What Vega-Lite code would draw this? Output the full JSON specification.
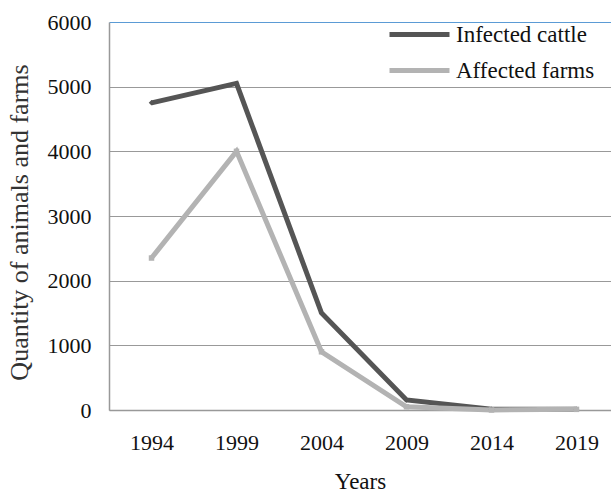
{
  "$schema": "https://vega.github.io/schema/vega-lite/v6.json",
  "width": 502,
  "height": 388,
  "autosize": {"type": "none"},
  "padding": {"left": 109, "top": 22, "right": 0, "bottom": 86},
  "background": "white",
  "config": {
    "view": {"stroke": null},
    "font": "Liberation Serif",
    "axis": {"labelFont": "Liberation Serif", "titleFont": "Liberation Serif", "labelColor": "#111", "titleColor": "#111", "titleFontWeight": "normal", "ticks": false, "domainColor": "#999", "domainWidth": 1.5}
  },
  "data": {
    "values": [
      {"year": "1994", "series": "Infected cattle", "value": 4750},
      {"year": "1999", "series": "Infected cattle", "value": 5050},
      {"year": "2004", "series": "Infected cattle", "value": 1500},
      {"year": "2009", "series": "Infected cattle", "value": 155},
      {"year": "2014", "series": "Infected cattle", "value": 10},
      {"year": "2019", "series": "Infected cattle", "value": 10},
      {"year": "1994", "series": "Affected farms", "value": 2350},
      {"year": "1999", "series": "Affected farms", "value": 4000},
      {"year": "2004", "series": "Affected farms", "value": 900},
      {"year": "2009", "series": "Affected farms", "value": 50},
      {"year": "2014", "series": "Affected farms", "value": 0},
      {"year": "2019", "series": "Affected farms", "value": 10}
    ]
  },
  "encoding": {
    "x": {
      "field": "year", "type": "ordinal",
      "scale": {"type": "point", "padding": 0.453, "align": 0.552},
      "axis": {"title": "Years", "labelAngle": 0, "labelFontSize": 22, "labelPadding": 22, "titleFontSize": 23, "titlePadding": 17, "grid": false}
    },
    "y": {
      "field": "value", "type": "quantitative",
      "scale": {"domain": [0, 6000]},
      "axis": {
        "title": "Quantity of animals and farms", "values": [0, 1000, 2000, 3000, 4000, 5000, 6000], "format": "d",
        "labelFontSize": 22, "labelPadding": 18, "titleFontSize": 26, "titleColor": "#333",
        "titleX": -90, "titleY": 200, "titleAngle": -90, "titleAlign": "center", "titleBaseline": "middle",
        "grid": true, "gridWidth": 1.2,
        "gridColor": {"condition": {"test": "datum.value == 6000", "value": "#5b9bd5"}, "value": "#999999"}
      }
    }
  },
  "layer": [
    {
      "mark": {"type": "line", "strokeWidth": 5},
      "encoding": {
        "color": {
          "field": "series", "type": "nominal",
          "scale": {"domain": ["Infected cattle", "Affected farms"], "range": ["#555555", "#b3b3b3"]},
          "legend": {
            "title": null, "orient": "none", "legendX": 299, "legendY": 1,
            "symbolType": "M-6,0H6", "symbolSize": 100, "symbolStrokeWidth": 5,
            "labelFontSize": 23, "labelFont": "Liberation Serif", "labelColor": "#111", "labelOffset": 25,
            "rowPadding": 12
          }
        }
      }
    },
    {
      "transform": [{"filter": "datum.series == 'Infected cattle'"}],
      "mark": {"type": "point", "filled": true, "size": 30, "opacity": 1, "shape": "diamond", "color": "#555555"}
    },
    {
      "transform": [{"filter": "datum.series == 'Affected farms'"}],
      "mark": {"type": "point", "filled": true, "size": 30, "opacity": 1, "shape": "square", "color": "#b3b3b3"}
    }
  ]
}
